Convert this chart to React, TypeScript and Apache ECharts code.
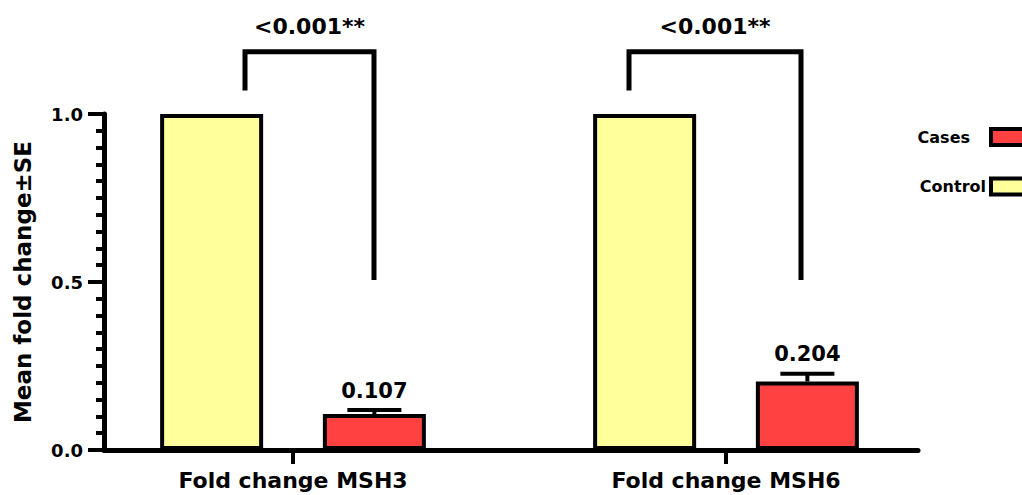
import React, { useEffect, useRef } from "react";
import * as echarts from "echarts";

// ---- data ----
const CATEGORIES = ["Fold change MSH3", "Fold change MSH6"];
const SERIES_NAMES = ["Control", "Cases"];
const LEGEND_ORDER = ["Cases", "Control"];
const CONTROL = [1.0, 1.0];
const CASES = [0.107, 0.204];
const CASES_SE = [0.012, 0.023];
const CASES_LABELS = ["0.107", "0.204"];
const P_VALUES = ["<0.001**", "<0.001**"];
const Y_MIN = 0;
const Y_MAX = 1.0;
const Y_INTERVAL = 0.5;
// bracket annotation levels (in y-axis units)
const BRACKET_TOP = [1.185, 1.185];
const BRACKET_LEFT_END = [1.07, 1.07];
const BRACKET_RIGHT_END = [0.506, 0.506];

// ---- layout / style constants ----
const FONT = '"DejaVu Sans", Verdana, sans-serif';
const YELLOW = "#FFFF9C";
const RED = "#FF4141";
const BAR_WIDTH = 103;
const BAR_GAP = 0.58;
const BAR_OFFSET = (BAR_WIDTH * (1 + BAR_GAP)) / 2;
const CAP_HALF = 27;
const BRACKET_LEGS = [
  [-48, 81],
  [-97, 75],
];

export default function App() {
  const ref = useRef<HTMLDivElement>(null);

  useEffect(() => {
    if (!ref.current) return;
    const chart = echarts.init(ref.current, undefined, { renderer: "svg" });

    const option: any = {
      animation: false,
      backgroundColor: "#ffffff",
      legend: {
        data: LEGEND_ORDER,
        orient: "vertical",
        align: "right",
        right: -11,
        top: 127,
        padding: 0,
        itemWidth: 40,
        itemHeight: 16,
        itemGap: 29.5,
        icon: "rect",
        selectedMode: false,
        itemStyle: { borderColor: "#000", borderWidth: 4 },
        formatter: (name: string) => (name === "Cases" ? "{p|" + name + "}" : name),
        textStyle: {
          fontFamily: FONT,
          fontWeight: "bold",
          fontSize: 16,
          color: "#000",
          rich: {
            p: {
              fontFamily: FONT,
              fontWeight: "bold",
              fontSize: 16,
              color: "#000",
              padding: [0, 16, 0, 0],
            },
          },
        },
      },
      grid: [
        { left: 104, right: 104, top: 114, bottom: 45 },
        { left: 76.5, right: 79.5, top: 114, bottom: 45 },
      ],
      xAxis: [
        {
          type: "category",
          gridIndex: 0,
          data: CATEGORIES,
          axisLine: { show: true, lineStyle: { color: "#000", width: 5 } },
          axisTick: { show: false },
          axisLabel: { show: false },
          splitLine: { show: false },
        },
        {
          type: "category",
          gridIndex: 1,
          data: CATEGORIES,
          axisLine: { show: false },
          axisTick: {
            show: true,
            alignWithLabel: true,
            length: 14,
            lineStyle: { color: "#000", width: 4 },
          },
          axisLabel: {
            show: true,
            margin: 19,
            color: "#000",
            fontFamily: FONT,
            fontWeight: "bold",
            fontSize: 22,
          },
          splitLine: { show: false },
        },
      ],
      yAxis: [
        {
          type: "value",
          gridIndex: 0,
          min: Y_MIN,
          max: Y_MAX,
          interval: Y_INTERVAL,
          name: "Mean fold change±SE",
          nameLocation: "middle",
          nameRotate: 90,
          nameGap: 70,
          nameTextStyle: {
            fontFamily: FONT,
            fontWeight: "bold",
            fontSize: 23,
            color: "#000",
          },
          axisLine: { show: true, lineStyle: { color: "#000", width: 5 } },
          axisTick: { show: true, length: 16, lineStyle: { color: "#000", width: 4 } },
          minorTick: {
            show: true,
            splitNumber: 10,
            length: 8,
            lineStyle: { color: "#000", width: 4 },
          },
          axisLabel: {
            margin: 21,
            color: "#000",
            fontFamily: FONT,
            fontWeight: "bold",
            fontSize: 18,
            formatter: (v: number) => v.toFixed(1),
          },
          splitLine: { show: false },
          minorSplitLine: { show: false },
        },
        {
          type: "value",
          gridIndex: 1,
          min: Y_MIN,
          max: Y_MAX,
          interval: Y_INTERVAL,
          show: false,
          splitLine: { show: false },
        },
      ],
      series: [
        {
          name: SERIES_NAMES[0],
          type: "bar",
          xAxisIndex: 1,
          yAxisIndex: 1,
          data: CONTROL,
          barWidth: BAR_WIDTH,
          barGap: BAR_GAP * 100 + "%",
          itemStyle: { color: YELLOW, borderColor: "#000", borderWidth: 4 },
        },
        {
          name: SERIES_NAMES[1],
          type: "bar",
          xAxisIndex: 1,
          yAxisIndex: 1,
          data: CASES,
          barWidth: BAR_WIDTH,
          barGap: BAR_GAP * 100 + "%",
          itemStyle: { color: RED, borderColor: "#000", borderWidth: 4 },
        },
        {
          type: "custom",
          xAxisIndex: 1,
          yAxisIndex: 1,
          silent: true,
          data: CASES.map((v, i) => [i, v, CASES_SE[i]]),
          renderItem: (params: any, api: any) => {
            const i = api.value(0);
            const v = api.value(1);
            const se = api.value(2);
            const base = api.coord([i, v]);
            const top = api.coord([i, v + se]);
            const x = base[0] + BAR_OFFSET;
            return {
              type: "group",
              children: [
                {
                  type: "line",
                  shape: { x1: x, y1: base[1], x2: x, y2: top[1] },
                  style: { stroke: "#000", lineWidth: 4 },
                },
                {
                  type: "line",
                  shape: { x1: x - CAP_HALF, y1: top[1], x2: x + CAP_HALF, y2: top[1] },
                  style: { stroke: "#000", lineWidth: 4 },
                },
                {
                  type: "text",
                  x: x,
                  y: top[1] - 9,
                  style: {
                    text: CASES_LABELS[params.dataIndex],
                    textAlign: "center",
                    textVerticalAlign: "bottom",
                    fontFamily: FONT,
                    fontWeight: "bold",
                    fontSize: 21,
                    fill: "#000",
                  },
                },
              ],
            };
          },
        },
        {
          type: "custom",
          xAxisIndex: 1,
          yAxisIndex: 1,
          silent: true,
          clip: false,
          data: CATEGORIES.map((_, i) => [i, BRACKET_TOP[i], BRACKET_LEFT_END[i], BRACKET_RIGHT_END[i]]),
          renderItem: (params: any, api: any) => {
            const i = api.value(0);
            const c = api.coord([i, api.value(1)]);
            const yL = api.coord([i, api.value(2)])[1];
            const yR = api.coord([i, api.value(3)])[1];
            const legs = BRACKET_LEGS[params.dataIndex];
            const xL = c[0] + legs[0];
            const xR = c[0] + legs[1];
            const yT = c[1];
            return {
              type: "group",
              children: [
                {
                  type: "polyline",
                  shape: {
                    points: [
                      [xL, yL],
                      [xL, yT],
                      [xR, yT],
                      [xR, yR],
                    ],
                  },
                  style: { stroke: "#000", lineWidth: 5, fill: "none", lineJoin: "miter" },
                },
                {
                  type: "text",
                  x: (xL + xR) / 2,
                  y: yT - 25,
                  style: {
                    text: P_VALUES[params.dataIndex],
                    textAlign: "center",
                    textVerticalAlign: "middle",
                    fontFamily: FONT,
                    fontWeight: "bold",
                    fontSize: 22,
                    fill: "#000",
                  },
                },
              ],
            };
          },
        },
      ],
    };

    chart.setOption(option);
    return () => {
      chart.dispose();
    };
  }, []);

  return (
    <div
      ref={ref}
      style={{ position: "absolute", left: 0, top: 0, width: 1022, height: 495, background: "#fff" }}
    />
  );
}
